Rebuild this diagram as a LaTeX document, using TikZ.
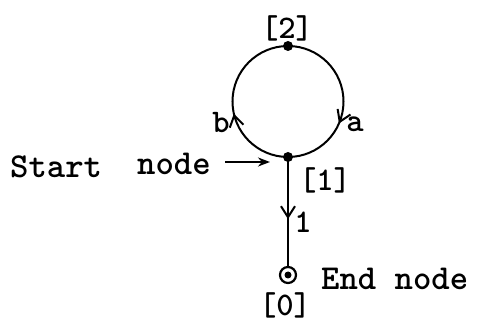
\documentclass[tikz,border=0pt]{standalone}
\usetikzlibrary{arrows.meta,decorations.markings}
\begin{document}
\begin{tikzpicture}[x=1pt,y=1pt,
  txt/.style={font=\ttfamily\bfseries\fontsize{35}{40}\selectfont, inner sep=0pt},
  lbl/.style={font=\ttfamily\bfseries\fontsize{33}{38}\selectfont, inner sep=0pt},
  edge/.style={line width=2pt},
  dot/.style={circle, fill=black, inner sep=0pt, minimum size=10pt},
  midarrow/.style={postaction={decorate}, decoration={markings,
     mark=at position #1 with {\arrow{Straight Barb[length=11pt,width=14pt,line width=2pt]}}}}
]
\useasboundingbox (0,0) rectangle (483,322);
\node[dot] (n2) at (288,276) {};
\node[dot] (n1) at (288,165) {};
\node[circle, draw, line width=2.2pt, minimum size=16pt, inner sep=0pt] (n0) at (288,47) {};
\fill (n0.center) circle (3.5pt);
% circle arcs
\draw[edge, midarrow=0.63] (n2.center) arc[start angle=90, end angle=-90, radius=55.5];
\draw[edge, midarrow=0.43] (n1.center) arc[start angle=270, end angle=90, radius=55.5];
% vertical edge
\draw[edge, midarrow=0.57] (n1.center) -- (n0.north);
% labels
\node[lbl] (l2) at (287,294) {[2]};
\node[lbl] (l1) at (325,142) {[1]};
\node[lbl, anchor=south] (l0) at (285,4) {[0]};
\node[lbl] (la) at (355,198) {a};
\node[lbl] (lb) at (221,199) {b};
\node[lbl] (lone) at (303,100) {1};
% start / end
\node[txt, anchor=base west] (st) at (10,144) {Start};
\node[txt, anchor=base west] (sn) at (137,147) {node};
\coordinate (sa) at (225,160);
\draw[edge, -{Stealth[length=12pt,width=9pt]}] (sa) -- (270,160);
\node[txt, anchor=base west] (en) at (321,32) {End node};
\end{tikzpicture}
\end{document}
